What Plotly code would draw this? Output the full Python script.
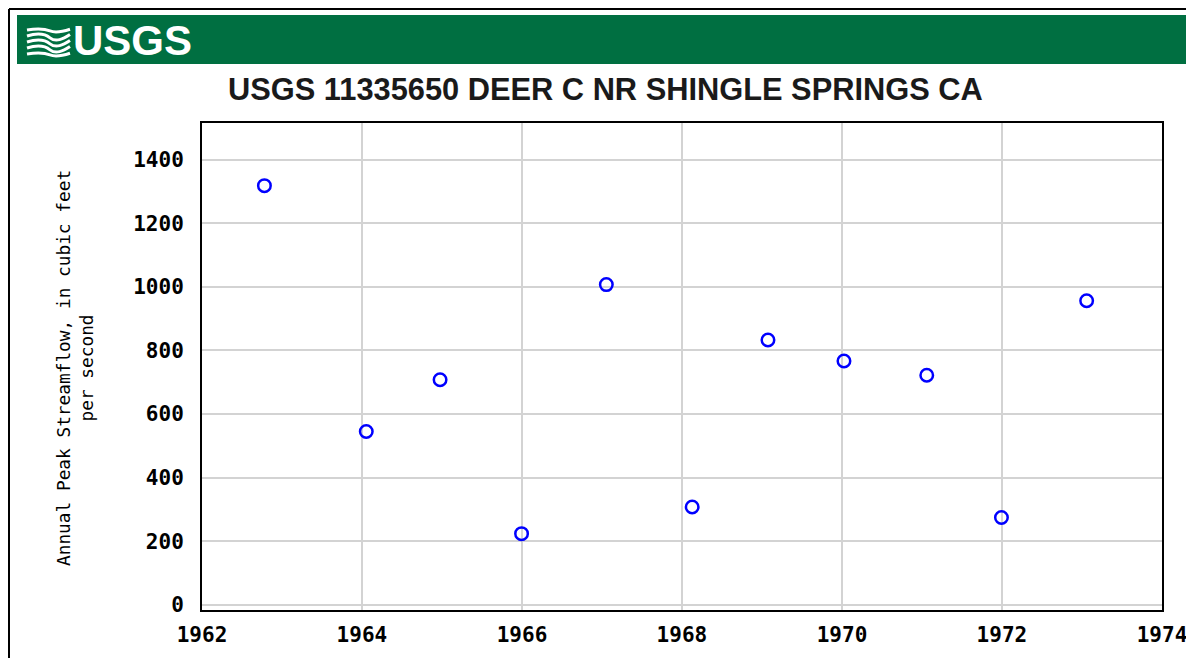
import plotly.graph_objects as go

# ---- data ----
peak_dates = ["1962-10-13", "1964-01-21", "1964-12-23", "1965-12-30", "1967-01-21",
              "1968-02-17", "1969-01-28", "1970-01-10", "1971-01-23", "1971-12-30",
              "1973-01-22"]
peak_flow = [1318, 545, 708, 224, 1007, 308, 833, 767, 722, 275, 956]
y_ticks = [0, 200, 400, 600, 800, 1000, 1200, 1400]
x_tick_years = ["1962", "1964", "1966", "1968", "1970", "1972", "1974"]

title_text = "USGS 11335650 DEER C NR SHINGLE SPRINGS CA"
y_title = "Annual Peak Streamflow, in cubic feet<br>per second"

OFF = 8  # page body margin
W, H = 1194 - OFF, 658 - OFF
# plot area in page pixels
PL, PR, PT, PB = 202, 1162, 123, 610
L, R, T, B = PL - OFF, PR - OFF, PT - OFF, PB - OFF


def px(x):  # page pixel -> paper x
    return (x - PL) / (PR - PL)


def py(y):  # page pixel -> paper y
    return (PB - y) / (PB - PT)


fig = go.Figure()
fig.add_trace(go.Scatter(
    x=peak_dates, y=peak_flow, mode="markers",
    marker=dict(symbol="circle-open", size=12.5, color="#0000FF",
                line=dict(width=2.5, color="#0000FF")),
    hoverinfo="x+y", showlegend=False,
))

shapes = []
# outer frame (left and top edges)
shapes.append(dict(type="line", xref="paper", yref="paper",
                   x0=px(9), x1=px(9), y0=py(9), y1=py(700),
                   line=dict(color="black", width=2), layer="above"))
shapes.append(dict(type="line", xref="paper", yref="paper",
                   x0=px(9), x1=px(1200), y0=py(9), y1=py(9),
                   line=dict(color="black", width=2), layer="above"))
# green banner
shapes.append(dict(type="rect", xref="paper", yref="paper",
                   x0=px(17), x1=px(1192), y0=py(64), y1=py(15),
                   fillcolor="#006F41", line=dict(width=0), layer="above"))
# wave logo lines
for i, yy in enumerate([30, 36, 42, 48, 54]):
    amp = 3 if 1 <= i <= 3 else 1.5
    d = (f"M {px(27)},{py(yy)} "
         f"C {px(37)},{py(yy - amp)} {px(44)},{py(yy - amp)} {px(50)},{py(yy + amp * 0.6)} "
         f"S {px(63)},{py(yy + amp)} {px(70)},{py(yy - amp * 0.5)}")
    shapes.append(dict(type="path", xref="paper", yref="paper", path=d,
                       line=dict(color="white", width=3), layer="above"))

annotations = [
    dict(text="<b>USGS</b>", xref="paper", yref="paper", x=px(71), y=py(40),
         xanchor="left", yanchor="middle", showarrow=False,
         font=dict(family="Liberation Sans", size=42, color="white")),
    dict(text="<b>" + title_text + "</b>", xref="paper", yref="paper",
         x=px(605), y=py(90), xanchor="center", yanchor="middle", showarrow=False,
         font=dict(family="Liberation Sans", size=30.8, color="#1a1a1a")),
    dict(text=y_title, xref="paper", yref="paper", x=px(75), y=py(368),
         xanchor="center", yanchor="middle", showarrow=False, textangle=-90,
         font=dict(family="DejaVu Sans Mono", size=17.8, color="black")),
]

fig.update_layout(
    width=W, height=H,
    margin=dict(l=L, r=W - R, t=T, b=H - B, pad=0, autoexpand=False),
    paper_bgcolor="white", plot_bgcolor="white",
    shapes=shapes, annotations=annotations,
    xaxis=dict(
        type="date", automargin=False,
        range=["1962-01-01", "1974-01-01"],
        tickvals=[y + "-01-01" for y in x_tick_years],
        ticktext=["<b>" + y + "</b>" for y in x_tick_years],
        ticks="outside", ticklen=5, tickcolor="rgba(0,0,0,0)",
        showgrid=True, gridcolor="#d3d3d3", gridwidth=2,
        showline=True, linecolor="black", linewidth=2, mirror=True,
        zeroline=False,
        tickfont=dict(family="DejaVu Sans Mono", size=21, color="black"),
    ),
    yaxis=dict(
        automargin=False,
        range=[-16, 1515],
        tickvals=y_ticks,
        ticktext=["<b>%d</b>" % v for v in y_ticks],
        ticks="outside", ticklen=12, tickcolor="rgba(0,0,0,0)",
        showgrid=True, gridcolor="#d3d3d3", gridwidth=2,
        showline=True, linecolor="black", linewidth=2, mirror=True,
        zeroline=False,
        tickfont=dict(family="DejaVu Sans Mono", size=21, color="black"),
    ),
)

fig.write_html("out.html")
